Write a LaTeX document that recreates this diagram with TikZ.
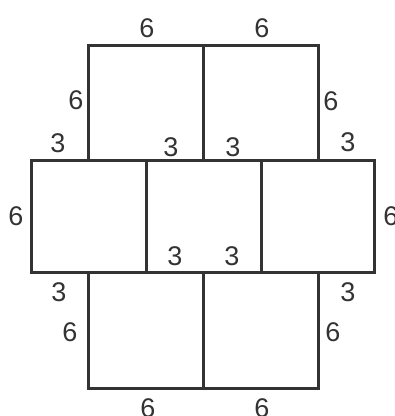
\documentclass[tikz,border=0pt]{standalone}
\usepackage{fontspec}
\setmainfont{Liberation Sans}
\usetikzlibrary{positioning}

\tikzset{
    edge/.style={line width=3pt, draw=black!80},
    len/.style={font=\fontsize{27}{27}\selectfont, text=black!80, inner sep=0pt}
}

\begin{document}
\begin{tikzpicture}[x=1pt, y=-1pt]
    \useasboundingbox (0,0) rectangle (395,416);

    % Corner points of the net
    \coordinate (tl) at (88,45);   \coordinate (tm) at (203,45);   \coordinate (tr) at (318,45);
    \coordinate (ml) at (31,160);  \coordinate (mr) at (374,160);
    \coordinate (bl) at (31,272);  \coordinate (br) at (374,272);
    \coordinate (dl) at (88,388);  \coordinate (dm) at (203,388);  \coordinate (dr) at (318,388);

    % Top pair of faces
    \draw [edge] (88,160) |- (tr) -- (318,160);
    \draw [edge] (tm) -- (203,160);

    % Middle row of faces
    \draw [edge] (ml) rectangle (br);
    \draw [edge] (146,160) -- (146,272);
    \draw [edge] (261,160) -- (261,272);

    % Bottom pair of faces
    \draw [edge] (88,272) |- (dr) -- (318,272);
    \draw [edge] (203,272) -- (dm);

    % Lengths
    \foreach \x/\y/\t [count=\i] in {147/28/6, 262/28/6, 76/100/6, 331/101/6,
        58/143/3, 171/147/3, 233/147/3, 348/142/3,
        16/216/6, 391/216/6, 175/256/3, 232/256/3,
        59/292/3, 348/292/3, 70/332/6, 333/332/6,
        148/408/6, 262/408/6} {
        \node [len] (n\i) at (\x,\y) {\t};
    }
\end{tikzpicture}
\end{document}
